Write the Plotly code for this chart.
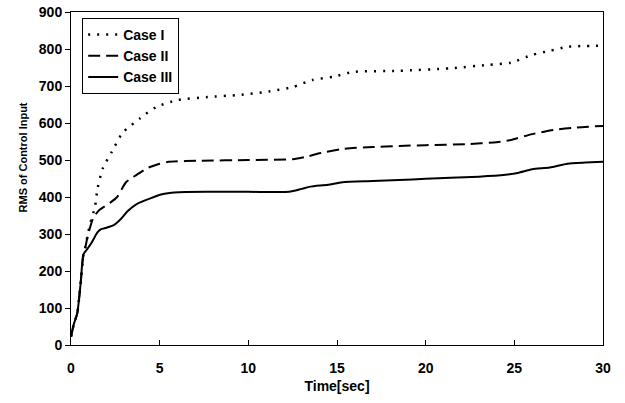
import plotly.graph_objects as go

t3 = [0, 0.15, 0.35, 0.55, 0.7, 0.9, 1.2, 1.5, 1.7, 2.0, 2.4, 2.8, 3.2, 3.7, 4.4, 5.2, 6.1, 8, 10, 12.3, 13, 13.5, 14.5, 15.3, 17, 18.5, 20, 21.4, 23, 24.5, 25.2, 26, 27, 28, 29, 30]
v3 = [22, 55, 85, 170, 245, 258, 280, 305, 313, 317, 324, 340, 362, 381, 395, 408, 413, 414, 414, 414, 422, 428, 433, 440, 443, 446, 449, 452, 455, 460, 465, 475, 480, 490, 493, 495]

t2 = [0, 0.15, 0.35, 0.55, 0.7, 0.8, 0.9, 1.0, 1.25, 1.6, 2.2, 2.6, 3.1, 3.7, 4.3, 5.0, 5.5, 7.3, 10, 12.5, 13.2, 14, 15.3, 17, 18.5, 20, 22.3, 24, 24.8, 26, 27.2, 28.5, 30]
v2 = [22, 55, 85, 170, 245, 262, 285, 305, 343, 365, 384, 400, 440, 460, 478, 490, 495, 498, 500, 502, 508, 518, 530, 535, 538, 540, 543, 548, 554, 570, 581, 588, 592]

t1 = [0, 0.15, 0.35, 0.55, 0.7, 0.8, 0.97, 1.15, 1.35, 1.5, 1.8, 2.3, 2.9, 3.9, 4.8, 6.0, 7.7, 9.5, 11.0, 12.5, 13.6, 14.8, 15.9, 18.5, 21.4, 23.5, 24.8, 26, 27, 28, 30]
v1 = [22, 55, 85, 170, 245, 262, 305, 340, 373, 424, 478, 522, 573, 613, 643, 662, 670, 676, 684, 697, 716, 725, 738, 741, 748, 757, 763, 784, 795, 806, 809]

names = ["Case I", "Case II", "Case III"]
x_title = "Time[sec]"
y_title = "RMS of Control Input"

fig = go.Figure()
fig.add_trace(go.Scatter(x=t1, y=v1, mode="lines", name=names[0],
                         line=dict(color="black", width=2.5, dash="2px,7px", shape="spline", smoothing=0.6)))
fig.add_trace(go.Scatter(x=t2, y=v2, mode="lines", name=names[1],
                         line=dict(color="black", width=2, dash="12px,6px", shape="spline", smoothing=0.6)))
fig.add_trace(go.Scatter(x=t3, y=v3, mode="lines", name=names[2],
                         line=dict(color="black", width=2, shape="spline", smoothing=0.6)))

fig.update_layout(
    width=625, height=403,
    margin=dict(l=71, r=22, t=12, b=58, autoexpand=False),
    paper_bgcolor="white", plot_bgcolor="white",
    font=dict(family="Liberation Sans, Arial", color="black", size=14, weight="bold"),
    legend=dict(x=0.021, y=0.982, xanchor="left", yanchor="top",
                bordercolor="black", borderwidth=1, bgcolor="white",
                font=dict(size=14, weight="bold"), tracegroupgap=0, itemwidth=30),
    showlegend=True,
    annotations=[dict(text=y_title, textangle=-90, xref="paper", yref="paper",
                      x=-0.106, y=0.562, showarrow=False,
                      font=dict(size=11, weight="bold"))],
)
fig.update_xaxes(range=[0, 30], tickvals=[0, 5, 10, 15, 20, 25, 30],
                 ticks="inside", ticklen=5, tickcolor="black",
                 showline=True, linecolor="black", linewidth=1, mirror=True,
                 showgrid=False, zeroline=False, automargin=False,
                 ticklabeloverflow="allow", ticklabelstandoff=10,
                 tickfont=dict(size=14, weight="bold"),
                 title=dict(text=x_title, font=dict(size=14, weight="bold"), standoff=6))
fig.update_yaxes(range=[0, 900], tickvals=list(range(0, 901, 100)),
                 ticks="outside", ticklen=5, tickcolor="black",
                 showline=True, linecolor="black", linewidth=1, mirror=True,
                 showgrid=False, zeroline=False, automargin=False,
                 ticklabeloverflow="allow",
                 tickfont=dict(size=14, weight="bold"))

fig.write_html("out.html", config={"displayModeBar": False},
               post_script="document.body.style.margin='0';")
